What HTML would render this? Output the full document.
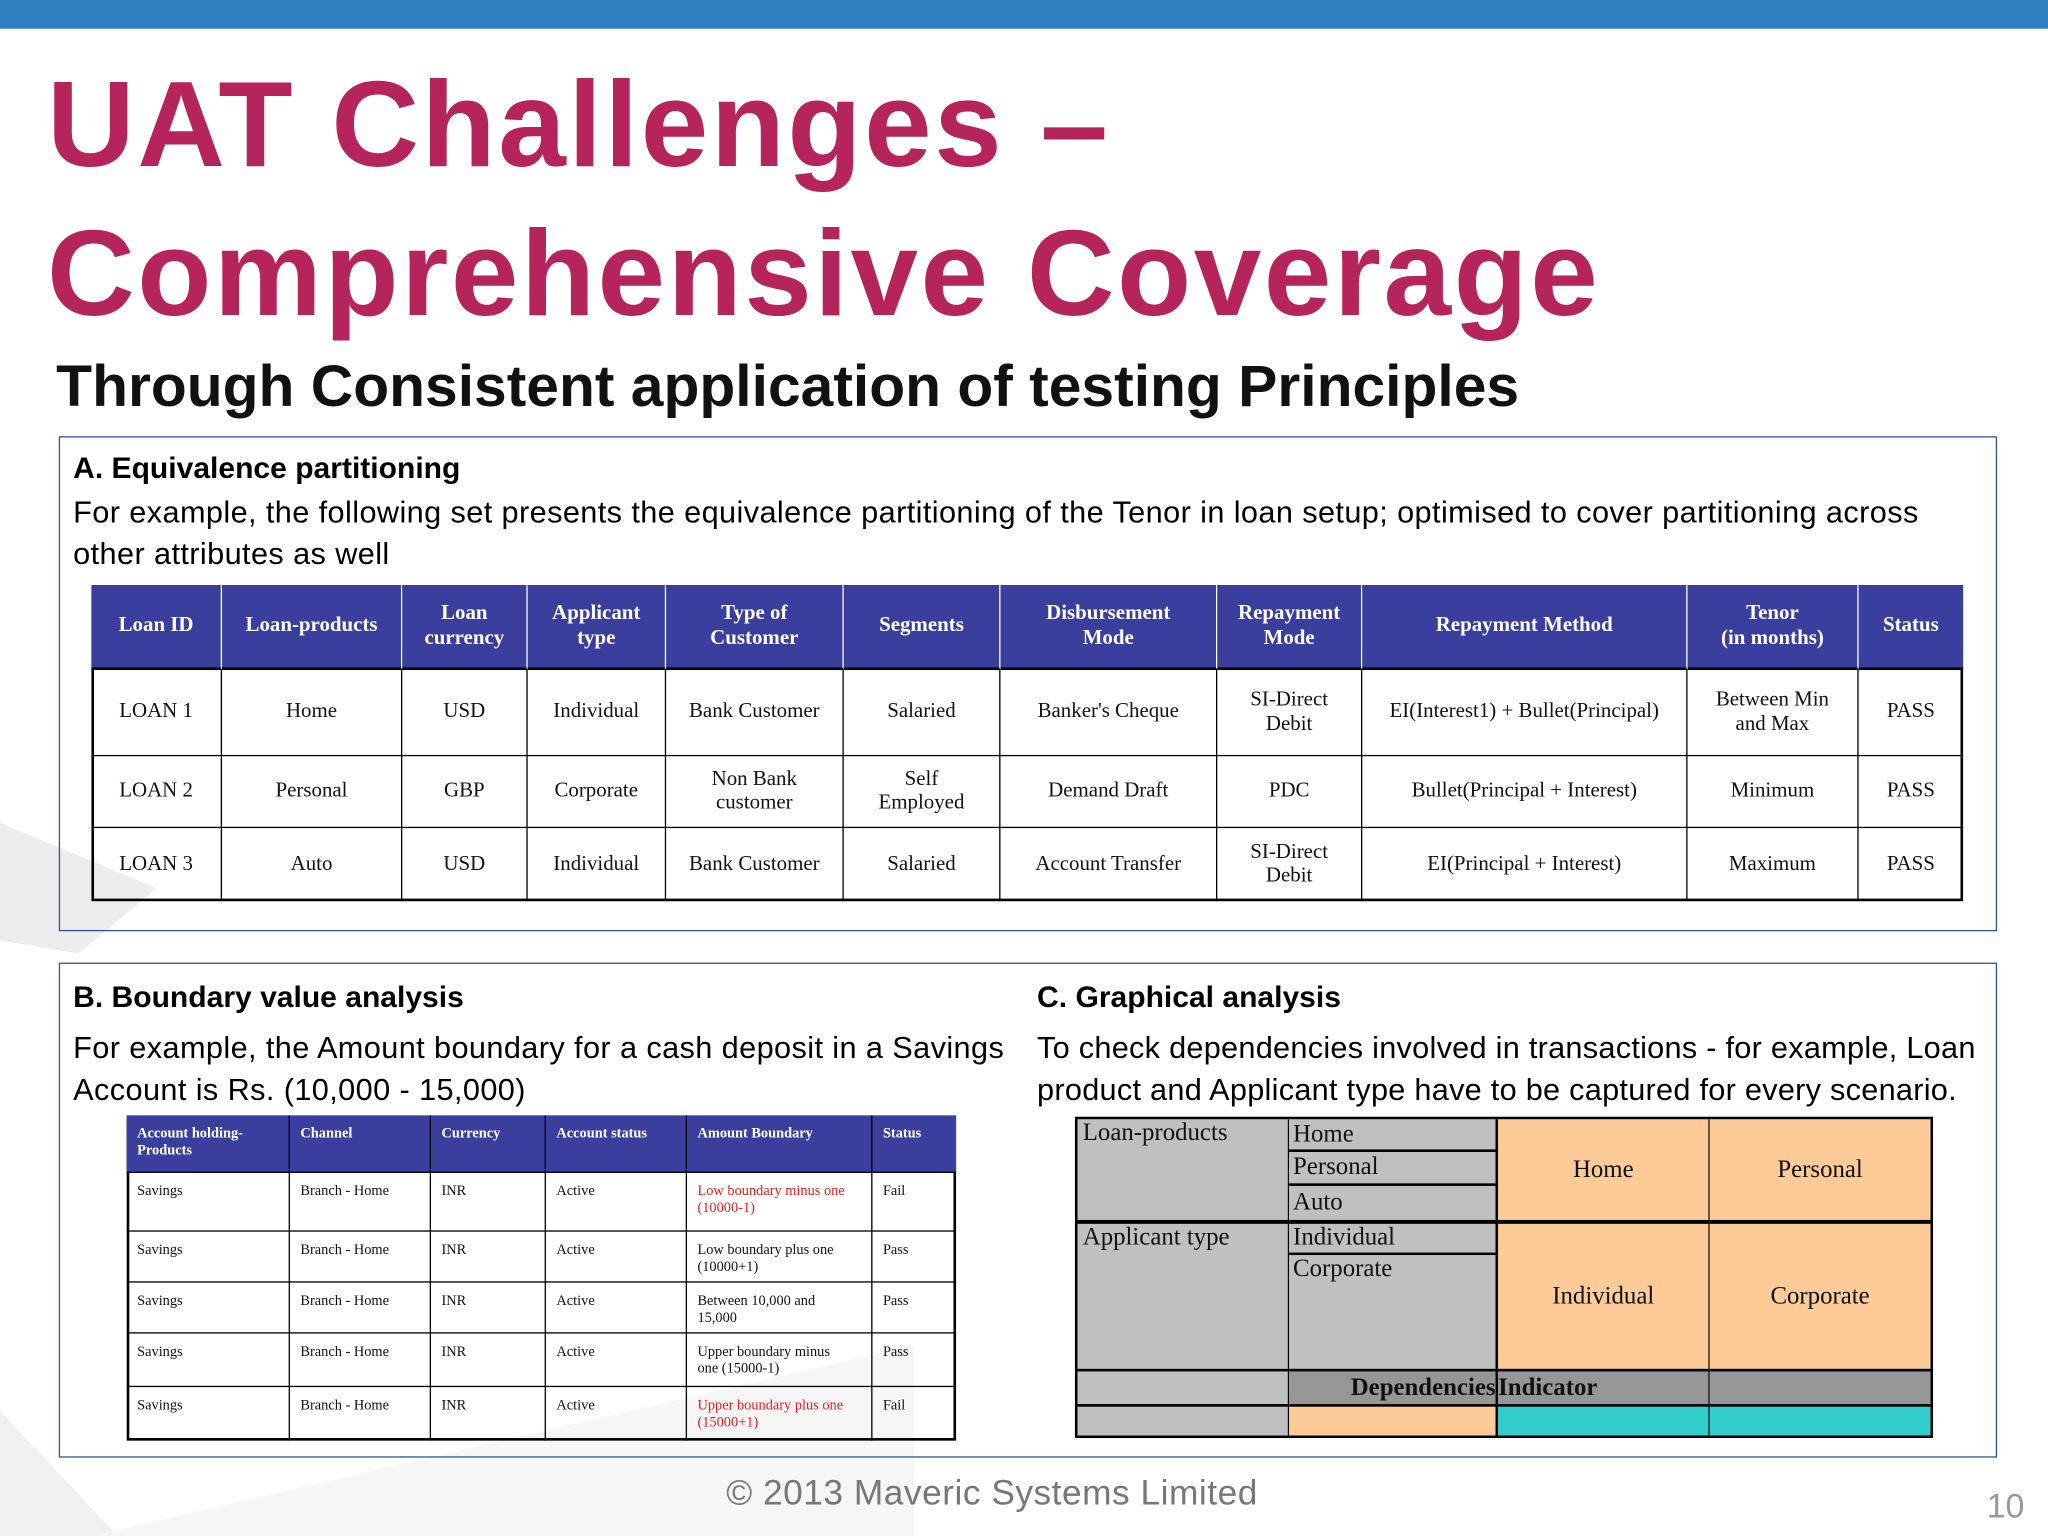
<!DOCTYPE html>
<html><head><meta charset="utf-8"><style>
html,body{margin:0;padding:0;width:2048px;height:1536px;overflow:hidden;background:#fff}
#s{position:absolute;left:0;top:0;width:1568px;height:1176px;transform:scale(1.306122);transform-origin:0 0;font-family:"Liberation Sans",sans-serif}
.a{position:absolute}
.c{position:absolute;box-sizing:border-box;display:flex;align-items:center;justify-content:center;text-align:center;font-family:"Liberation Serif",serif;color:#111;line-height:1.15}
.h{background:#3a3f9e;color:#fff;font-weight:bold}
.tl{justify-content:flex-start;align-items:flex-start;text-align:left;padding:3px 14px 3px 8px}
</style></head><body>
<div id="s">
<svg class="a" style="left:0;top:0" width="1568" height="1176">
<polygon points="0,630 120,680 60,730 0,720" fill="#ededf0"/>
<polygon points="0,1080 90,1176 0,1176" fill="#f0f0f2"/>
<polygon points="70,1176 700,1030 700,1176" fill="#f6f6f7"/>
</svg>
<div class="a" style="left:0;top:0;width:1568px;height:22px;background:#2e7fbf"></div>
<div class="a" style="left:36px;top:38px;font-size:93px;font-weight:bold;color:#b5245a;line-height:114px;letter-spacing:1.9px">UAT Challenges –<br>Comprehensive Coverage</div>
<div class="a" style="left:43px;top:270px;font-size:45px;font-weight:bold;color:#111;letter-spacing:0px">Through Consistent application of testing Principles</div>

<div class="a" style="left:45px;top:334px;width:1484px;height:379px;border:1.5px solid #2f5597;box-sizing:border-box"></div>
<div class="a" style="left:56px;top:345px;font-size:23px;font-weight:bold">A. Equivalence partitioning</div>
<div class="a" style="left:56px;top:376px;width:1430px;font-size:23.5px;line-height:32px;letter-spacing:0.3px">For example, the following set presents the equivalence partitioning of the Tenor in loan setup; optimised to cover partitioning across other attributes as well</div>
<div class="a" id="ta" style="left:70px;top:448px;width:1433px;height:242px;border:2px solid #000;box-sizing:border-box"></div>

<div class="a" style="left:45px;top:737px;width:1484px;height:379px;border:1.5px solid #2f5597;box-sizing:border-box"></div>
<div class="a" style="left:56px;top:750px;font-size:23px;font-weight:bold">B. Boundary value analysis</div>
<div class="a" style="left:56px;top:786px;width:720px;font-size:23.5px;line-height:32px;letter-spacing:0.3px">For example, the Amount boundary for a cash deposit in a Savings Account is Rs. (10,000 - 15,000)</div>
<div class="a" style="left:794px;top:750px;font-size:23px;font-weight:bold">C. Graphical analysis</div>
<div class="a" style="left:794px;top:786px;width:730px;font-size:23.5px;line-height:32px;letter-spacing:0.2px">To check dependencies involved in transactions - for example, Loan product and Applicant type have to be captured for every scenario.</div>
<div class="a" id="tb" style="left:97px;top:854px;width:635px;height:249px;border:2px solid #000;box-sizing:border-box"></div>
<div class="a" id="tc" style="left:823px;top:855px;width:657px;height:246px;border:2px solid #000;box-sizing:border-box"></div>

<div class="a" style="left:556px;top:1128px;font-size:27px;color:#777;letter-spacing:0.4px">© 2013 Maveric Systems Limited</div>
<div class="a" style="left:1521px;top:1138px;font-size:26px;color:#999">10</div>
</div>
<script>
function cell(parent,x,y,w,h,txt,cls,style,name){
  var d=document.createElement('div');
  d.className='c '+(cls||'');
  d.style.left=x+'px';d.style.top=y+'px';d.style.width=w+'px';d.style.height=h+'px';
  if(style)d.style.cssText+=style;
  d.innerHTML=txt;
  
  
  parent.appendChild(d);return d;
}
var aCols=[70,170,308,404,510,646,766,932,1043,1292,1423,1503];
var aRows=[448,513,579,634,690];
var aHead=['Loan ID','Loan-products','Loan<br>currency','Applicant<br>type','Type of<br>Customer','Segments','Disbursement<br>Mode','Repayment<br>Mode','Repayment Method','Tenor<br>(in months)','Status'];
var aData=[
['LOAN 1','Home','USD','Individual','Bank Customer','Salaried',"Banker's Cheque",'SI-Direct<br>Debit','EI(Interest1) + Bullet(Principal)','Between Min<br>and Max','PASS'],
['LOAN 2','Personal','GBP','Corporate','Non Bank<br>customer','Self<br>Employed','Demand Draft','PDC','Bullet(Principal + Interest)','Minimum','PASS'],
['LOAN 3','Auto','USD','Individual','Bank Customer','Salaried','Account Transfer','SI-Direct<br>Debit','EI(Principal + Interest)','Maximum','PASS']];
var ta=document.getElementById('ta');
for(var r=0;r<4;r++)for(var c=0;c<11;c++){
  var x=aCols[c]-70,y=aRows[r]-448,w=aCols[c+1]-aCols[c],h=aRows[r+1]-aRows[r];
  var t=r==0?aHead[c]:aData[r-1][c];
  cell(ta,x-2,y-2,w,h,t,r==0?'h':'','font-size:16px;border-right:'+(c<10?'1.5px solid #000':'0')+';border-bottom:'+(r<3?'1.5px solid #000':'0')+(r==0?';border-right-color:#fff;border-bottom:2px solid #000':''),r==0?'header-cell':'data-cell');
}
var bCols=[97,222,330,418,526,668,732];
var bRows=[854,898,943,982,1021,1062,1103];
var bHead=['Account holding-<br>Products','Channel','Currency','Account status','Amount Boundary','Status'];
var bAmt=['Low boundary minus one (10000-1)','Low boundary plus one (10000+1)','Between 10,000 and 15,000','Upper boundary minus one (15000-1)','Upper boundary plus one (15000+1)'];
var bStat=['Fail','Pass','Pass','Pass','Fail'];
var tb=document.getElementById('tb');
for(var r=0;r<6;r++)for(var c=0;c<6;c++){
  var x=bCols[c]-97,y=bRows[r]-854,w=bCols[c+1]-bCols[c],h=bRows[r+1]-bRows[r];
  var t;
  if(r==0)t=bHead[c];else t=[ 'Savings','Branch - Home','INR','Active',bAmt[r-1],bStat[r-1]][c];
  var red=(r==1||r==5)&&c==4;
  cell(tb,x-2,y-2,w,h,t,(r==0?'h ':'')+'tl','font-size:11px;padding-top:8px;border-right:'+(c<5?'1.5px solid #000':'0')+';border-bottom:'+(r<5?'1.5px solid #000':'0')+(red?';color:#e02020':''),r==0?'boundary-header-cell':'boundary-cell');
}
var tc=document.getElementById('tc');
var G='#c0c0c0',P='#fccb98',D='#969696',T='#33cccc';
function cc(x1,y1,x2,y2,t,bg,st,name){cell(tc,x1-825,y1-857,x2-x1,y2-y1,t,'',';background:'+bg+';font-size:19px;'+(st||''),name);}
cc(825,857,987,934,'Loan-products',G,'justify-content:flex-start;align-items:flex-start;padding-left:4px;border-right:1.5px solid #000','label-loan-products');
cc(987,857,1147,882,'Home',G,'justify-content:flex-start;padding-left:3px;border-bottom:2px solid #000;border-right:2px solid #000','option-home');
cc(987,882,1147,908,'Personal',G,'justify-content:flex-start;padding-left:3px;border-bottom:2px solid #000;border-right:2px solid #000','option-personal');
cc(987,908,1147,934,'Auto',G,'justify-content:flex-start;padding-left:3px;border-right:2px solid #000','option-auto');
cc(1147,857,1309,934,'Home',P,'border-right:1px solid #000','cell-home');
cc(1309,857,1478,934,'Personal',P,'','cell-personal');
cc(825,934,987,1048,'Applicant type',G,'justify-content:flex-start;align-items:flex-start;padding-left:4px;border-top:3px solid #000;border-right:1.5px solid #000','label-applicant-type');
cc(987,934,1147,961,'Individual',G,'justify-content:flex-start;padding-left:3px;border-top:3px solid #000;border-bottom:2px solid #000;border-right:2px solid #000','option-individual');
cc(987,961,1147,1048,'Corporate',G,'justify-content:flex-start;align-items:flex-start;padding-left:3px;border-right:2px solid #000','option-corporate');
cc(1147,934,1309,1048,'Individual',P,'border-top:3px solid #000;border-right:1px solid #000','cell-individual');
cc(1309,934,1478,1048,'Corporate',P,'border-top:3px solid #000','cell-corporate');
cc(825,1048,987,1075,'',G,'border-top:2px solid #000;border-right:1.5px solid #000','blank-left');
cc(987,1048,1147,1075,'Dependencies',D,'justify-content:flex-end;font-weight:bold;border-top:2px solid #000;border-right:2px solid #000','dependencies-label');
cc(1147,1048,1309,1075,'Indicator',D,'justify-content:flex-start;font-weight:bold;border-top:2px solid #000;border-right:1px solid #000','indicator-label');
cc(1309,1048,1478,1075,'',D,'border-top:2px solid #000','blank-gray');
cc(825,1075,987,1099,'',G,'border-top:2px solid #000;border-right:1.5px solid #000','blank-bottom');
cc(987,1075,1147,1099,'',P,'border-top:2px solid #000;border-right:2px solid #000','swatch-peach');
cc(1147,1075,1309,1099,'',T,'border-top:2px solid #000;border-right:1px solid #000','swatch-teal-1');
cc(1309,1075,1478,1099,'',T,'border-top:2px solid #000','swatch-teal-2');
</script>
</body></html>
